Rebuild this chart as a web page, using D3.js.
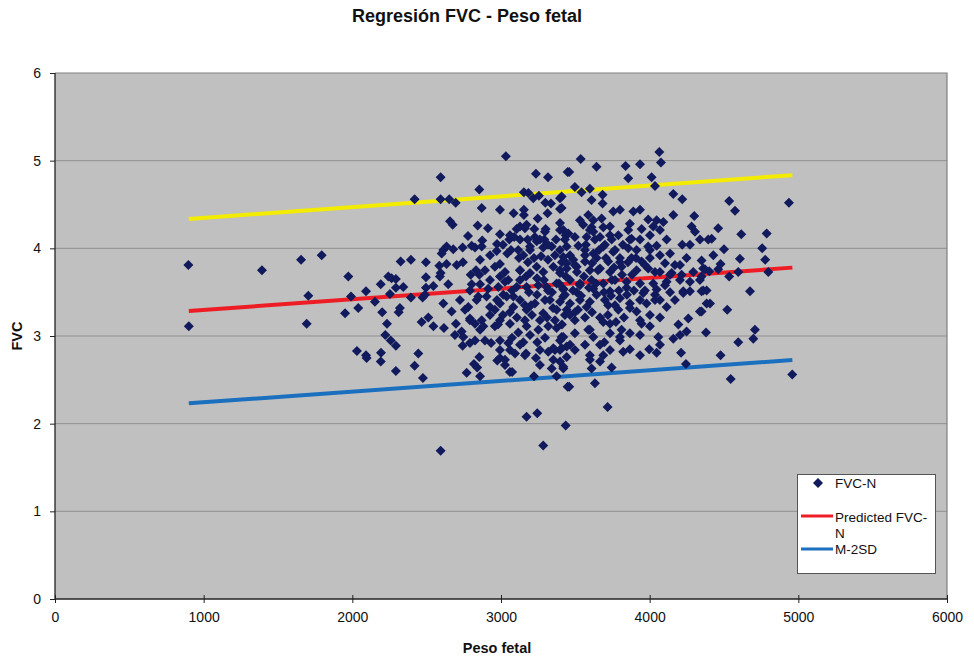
<!DOCTYPE html>
<html>
<head>
<meta charset="utf-8">
<script src="https://cdn.jsdelivr.net/npm/d3@7/dist/d3.min.js"></script>
<style>
  body { margin: 0; background: #fff; }
  text { font-family: "Liberation Sans", Arial, sans-serif; }
</style>
</head>
<body>
<svg id="chart" width="974" height="662"></svg>
<script>
// ---- Data ----
const pesoFetal = [
897,900,1392,1655,1794,1704,1693,1973,1991,1951,2040,2092,2152,2191,2242,2264,2293,2293,2253,2343,2325,2394,2495,2495,2495,2394,2473,2201,2320,2312,2233,2466,2511,2222,2258,2293,2031,2092,2096,2193,2191,2293,2419,2444,2475,2419,
3033,2594,3235,3316,3448,2854,2594,2652,2695,3154,3184,3217,3255,3298,3336,3397,3397,3313,2870,2993,3085,3154,3154,2657,2675,2843,3247,3397,3128,3105,3172,3224,3300,3397,2993,3056,3089,3179,3228,3291,3435,2634,2612,2601,2679,2742,2803,2825,2874,2870,2926,2971,3042,3116,3150,3195,3240,3284,3341,3397,3442,2585,2634,2702,2594,2589,2545,2645,2796,2854,2803,2859,2914,2959,2993,3027,2993,3049,3128,3195,3168,3240,3284,3352,3397,3442,3105,3172,3251,3307,3374,3419,2982,2489,2847,2903,3015,3083,
2612,2668,2780,2836,2926,2959,2993,3038,3083,3128,3172,3228,3284,3329,3374,3442,2545,2616,2697,2791,2825,2870,2881,2959,2993,3060,3116,3172,3251,3318,3374,3419,2735,2746,2791,2742,2825,2933,2993,3049,3060,3094,3150,3168,3244,3318,3352,3397,3442,3235,3352,3397,3341,3419,2854,2818,2840,2769,2859,2975,2993,3027,3060,3075,3222,3374,3448,3172,3244,3435,3284,2594,
3536,4065,4076,3459,3643,3838,3935,3856,4013,4036,3497,3542,3598,3408,3609,3683,3683,4159,4219,3408,3755,3800,3890,3935,4159,4300,3531,3587,3621,3677,3553,3609,3688,3733,3867,3990,4047,4092,4024,3419,3453,3497,3576,3621,3666,3744,3789,3856,3878,3946,4002,4069,3935,4114,4282,4305,4394,4219,3520,3565,3621,3688,3755,3856,3912,3990,4047,4137,3419,3486,3565,3643,3721,3800,3878,3946,4002,4248,3442,3509,3598,3666,3733,3811,3912,3990,4069,4148,4215,4293,4360,3464,3531,3609,3688,3767,3845,3935,4024,4114,4204,4271,4338,4226,4271,4360,3419,3509,3621,3733,3845,3957,4047,4137,
3419,3464,3531,3576,3643,3721,3800,3789,3867,3912,3979,4036,4069,4114,4226,4338,4260,4193,4248,3430,3497,3587,3621,3688,3733,3811,3800,3867,3946,4002,4058,4159,3408,3695,3822,3867,3997,4047,4211,3408,3497,3442,3598,3688,3666,3419,3609,3744,4244,3459,3632,3717,
4535,4574,4937,4461,4417,4616,4787,4500,4757,4428,4349,4607,4777,4477,4372,4401,4461,4596,4798,4535,4349,4349,4383,4675,4383,4406,4522,4349,4379,4708,4697,4596,4477,4545,4959,
3013,3067,3121,3181,3222,3269,3316,3363,3410,3464,3511,3558,3612,3659,3706,3760,3814,3854,3908,
3027,3074,3128,3188,3242,3289,3343,3390,3437,3484,3538,3592,3639,3693,3740,3793,3847,3894,
3013,3060,3107,3161,3208,3262,3309,3363,3410,3464,3518,3565,3612,3666,3719,3773,3827,
2973,3202,3296,3350,3397,3497,3598,3699,3767,3867,
3262,3316,3370,3430,3128,3060,3571,3632,3699,3767,3820,
3195,3296,3397,3497,3598,3733,3128,3262,3464,3565,
2859,2892,2791,2724,2758,2926,2690,2892,2993,3598,3733,3935,4002,4069,3968,4036,4103,3935,4170,4170,
2778,2912,2973,2744,2832,2926,2791,2859,2980,3074,3161,3242,3316,3430,3531,3652,3746,3800,3881,3968,4036,4103,4204,4271,4338,3128,3195,3397,3497,3565,3296,3161,3598,3733,3867,4002,4069,4137,3262,3363,3666,3800,3935,3027,3161,3935,4069,4204
];
const fvcN = [
3.81,3.11,3.75,3.87,3.92,3.46,3.14,3.68,3.45,3.26,3.32,3.51,3.39,3.59,3.68,3.66,3.65,3.55,3.48,3.56,3.85,3.87,3.84,3.67,3.55,3.44,3.44,3.27,3.32,3.27,3.14,3.16,3.21,3.01,2.95,2.89,2.83,2.78,2.75,2.81,2.71,2.60,2.66,2.80,2.52,4.56,
5.05,4.81,4.85,4.81,4.87,4.67,4.56,4.56,4.52,4.64,4.63,4.57,4.60,4.52,4.51,4.57,4.45,4.40,4.46,4.44,4.40,4.44,4.38,4.31,4.27,4.26,4.34,4.29,4.25,4.22,4.27,4.22,4.22,4.21,4.16,4.10,4.13,4.10,4.13,4.10,4.15,4.02,3.98,3.94,3.99,4.01,4.03,4.01,4.09,4.02,3.92,3.97,3.94,3.98,3.92,4.02,4.08,4.01,4.02,3.98,4.02,3.80,3.82,3.81,3.72,3.68,3.57,3.59,3.70,3.70,3.59,3.59,3.54,3.79,3.82,3.73,3.68,3.64,3.75,3.72,3.68,3.79,3.73,3.79,3.72,3.83,3.56,3.56,3.58,3.56,3.60,3.54,3.56,3.47,3.45,3.45,3.47,3.45,
3.37,3.28,3.33,3.41,3.33,3.30,3.37,3.45,3.33,3.41,3.30,3.37,3.26,3.41,3.30,3.30,3.11,3.09,3.14,3.20,3.14,3.18,3.11,3.11,3.18,3.14,3.04,3.11,3.07,3.11,3.09,2.99,3.05,2.99,2.92,2.89,2.95,2.92,2.95,2.92,2.84,2.80,2.93,2.80,2.93,2.82,2.86,2.84,2.88,2.75,2.73,2.71,2.63,2.63,2.76,2.68,2.64,2.58,2.54,2.72,2.75,2.67,2.59,2.59,2.54,2.54,2.42,2.08,2.12,1.98,1.75,1.69,
5.02,5.10,4.98,4.87,4.93,4.94,4.96,4.80,4.81,4.71,4.70,4.64,4.68,4.59,4.55,4.61,4.51,4.62,4.56,4.46,4.42,4.44,4.42,4.44,4.38,4.37,4.32,4.38,4.32,4.34,4.27,4.24,4.24,4.25,4.28,4.33,4.32,4.30,4.25,4.21,4.17,4.13,4.13,4.19,4.13,4.10,4.15,4.21,4.11,4.22,4.15,4.21,4.10,4.10,4.25,4.19,4.10,4.04,4.03,3.98,3.94,4.02,3.96,4.00,3.98,4.02,4.03,3.94,3.90,3.87,3.85,3.89,3.85,3.89,3.89,3.85,3.89,3.89,3.77,3.79,3.75,3.77,3.73,3.79,3.75,3.77,3.73,3.72,3.70,3.73,3.77,3.64,3.60,3.64,3.60,3.64,3.62,3.60,3.60,3.62,3.64,3.62,3.64,3.51,3.51,3.52,3.53,3.50,3.54,3.51,3.55,3.49,3.53,3.50,
3.45,3.37,3.41,3.33,3.47,3.35,3.43,3.30,3.37,3.28,3.37,3.47,3.41,3.33,3.49,3.28,3.20,3.13,3.05,3.24,3.18,3.07,2.99,3.16,3.14,3.07,2.99,3.03,3.14,3.11,2.99,2.97,2.99,2.93,2.82,2.85,2.85,2.81,2.81,2.86,2.84,2.76,2.78,2.78,2.71,2.65,2.63,2.64,2.68,2.42,2.46,2.19,
4.54,4.43,4.52,4.23,4.11,4.16,4.17,3.99,4.00,3.92,3.86,3.88,3.87,3.82,3.76,3.74,3.76,3.73,3.73,3.68,3.68,3.51,3.52,3.51,3.37,3.37,3.30,3.28,3.04,3.07,2.97,2.93,2.78,2.51,2.56,
4.04,3.98,3.89,3.84,3.89,3.91,3.87,3.92,3.84,3.92,3.73,3.68,3.83,3.98,3.89,3.78,3.70,3.84,3.89,
3.62,3.52,3.64,3.50,3.66,3.64,3.50,3.60,3.68,3.52,3.46,3.55,3.60,3.50,3.46,3.52,3.47,3.52,
3.24,3.27,3.21,3.18,3.24,3.18,3.21,3.18,3.13,3.24,3.30,3.21,3.27,3.21,3.24,3.16,3.21,
3.41,3.35,3.41,3.32,3.39,3.27,3.39,3.41,3.35,3.32,
4.10,4.04,4.10,4.10,4.10,4.15,4.04,4.10,4.04,3.98,4.04,
3.01,2.98,2.95,3.03,3.07,3.03,2.90,2.84,2.90,2.90,
3.87,3.75,3.52,3.41,3.30,3.24,3.01,2.95,2.84,2.73,2.84,3.18,3.24,3.21,3.81,3.73,3.83,3.41,3.41,3.81,
4.14,4.23,4.05,3.84,3.75,3.64,3.18,3.07,3.13,2.98,3.35,3.47,3.52,3.47,3.58,3.75,3.64,3.84,3.70,3.52,3.41,3.58,3.81,4.04,4.10,3.75,3.98,3.75,3.81,3.92,4.19,4.23,4.21,4.15,4.10,3.98,3.92,3.70,2.67,2.84,2.90,2.95,3.01,2.73,2.78,2.78,2.90,3.01
];
// regression lines (end points)
const lineX = [900, 4960];
const predictedFVC = [3.285, 3.78];
const upperLine = [4.335, 4.835];
const lowerM2SD = [2.232, 2.726];

const xTicks = [0, 1000, 2000, 3000, 4000, 5000, 6000];
const yTicks = [0, 1, 2, 3, 4, 5, 6];

// ---- Layout ----
const svg = d3.select("#chart");
const L = 55, R = 947, T = 73, B = 599;
const x = d3.scaleLinear().domain([0, 6000]).range([L, R]);
const y = d3.scaleLinear().domain([0, 6]).range([B, T]);

svg.append("rect").attr("width", 974).attr("height", 662).attr("fill", "#fff");

// plot background
svg.append("rect").attr("x", L).attr("y", T).attr("width", R - L).attr("height", B - T)
  .attr("fill", "#c0c0c0");

// gridlines
svg.append("g").selectAll("line").data(yTicks.filter(d => d > 0 && d < 6)).join("line")
  .attr("x1", L).attr("x2", R).attr("y1", d => y(d)).attr("y2", d => y(d))
  .attr("stroke", "#909090").attr("stroke-width", 1);

// top & right border
svg.append("path").attr("d", `M${L},${T}H${R}V${B}`).attr("fill", "none")
  .attr("stroke", "#808080").attr("stroke-width", 1.2);

// lines (drawn under the points)
const lineGen = d3.line().x(d => x(d[0])).y(d => y(d[1]));
const series = [
  { vals: upperLine, color: "#f3eb00" },
  { vals: predictedFVC, color: "#ee1d25" },
  { vals: lowerM2SD, color: "#1b6fbf" }
];
series.forEach(s => {
  svg.append("path").datum(lineX.map((v, i) => [v, s.vals[i]]))
    .attr("d", lineGen).attr("fill", "none")
    .attr("stroke", s.color).attr("stroke-width", 4);
});

// points
const pts = pesoFetal.map((w, i) => [w, fvcN[i]]);
const diamond = d3.symbol().type(d3.symbolSquare).size(50);
svg.append("g").selectAll("path").data(pts).join("path")
  .attr("d", diamond)
  .attr("transform", d => `translate(${x(d[0])},${y(d[1])}) rotate(45)`)
  .attr("fill", "#111a5c");

// axes
const fmt = d3.format("d");
const xAxis = svg.append("g").attr("transform", `translate(0,${B})`)
  .call(d3.axisBottom(x).tickValues(xTicks).tickFormat(fmt).tickSize(4).tickPadding(9));
xAxis.selectAll(".tick line").attr("y1", -4).attr("y2", 4);
const yAxis = svg.append("g").attr("transform", `translate(${L},0)`)
  .call(d3.axisLeft(y).tickValues(yTicks).tickFormat(fmt).tickSize(5).tickPadding(9));
[xAxis, yAxis].forEach(a => {
  a.select(".domain").attr("stroke", "#222").attr("stroke-width", 1.3);
  a.selectAll(".tick line").attr("stroke", "#222");
  a.selectAll(".tick text").attr("font-family", "Liberation Sans, Arial, sans-serif")
    .attr("font-size", 14).attr("fill", "#111");
});
yAxis.select(".domain").attr("d", `M0,${B}V${T}`);
xAxis.select(".domain").attr("d", `M${L},0H${R}`);

// titles
svg.append("text").attr("x", 467).attr("y", 22).attr("text-anchor", "middle")
  .attr("font-size", 18).attr("font-weight", "bold").attr("fill", "#111")
  .text("Regresión FVC - Peso fetal");
svg.append("text").attr("x", 497).attr("y", 653).attr("text-anchor", "middle")
  .attr("font-size", 14.5).attr("font-weight", "bold").attr("fill", "#111")
  .text("Peso fetal");
svg.append("text").attr("transform", "translate(22,336) rotate(-90)").attr("text-anchor", "middle")
  .attr("font-size", 14.5).attr("font-weight", "bold").attr("fill", "#111")
  .text("FVC");

// legend
const lg = svg.append("g");
lg.append("rect").attr("x", 797.5).attr("y", 474.5).attr("width", 138).attr("height", 99)
  .attr("fill", "#fff").attr("stroke", "#555").attr("stroke-width", 1);
lg.append("path").attr("d", diamond).attr("transform", "translate(818,483) rotate(45)").attr("fill", "#111a5c");
lg.append("line").attr("x1", 801).attr("x2", 833).attr("y1", 516).attr("y2", 516)
  .attr("stroke", "#ee1d25").attr("stroke-width", 3);
lg.append("line").attr("x1", 801).attr("x2", 833).attr("y1", 549).attr("y2", 549)
  .attr("stroke", "#1b6fbf").attr("stroke-width", 3);
const legTexts = [["FVC-N", 488], ["Predicted FVC-", 522], ["N", 538], ["M-2SD", 554]];
lg.selectAll("text.lt").data(legTexts).join("text").attr("class", "lt")
  .attr("x", 835).attr("y", d => d[1]).attr("font-size", 13.5).attr("fill", "#111")
  .text(d => d[0]);
</script>
</body>
</html>
